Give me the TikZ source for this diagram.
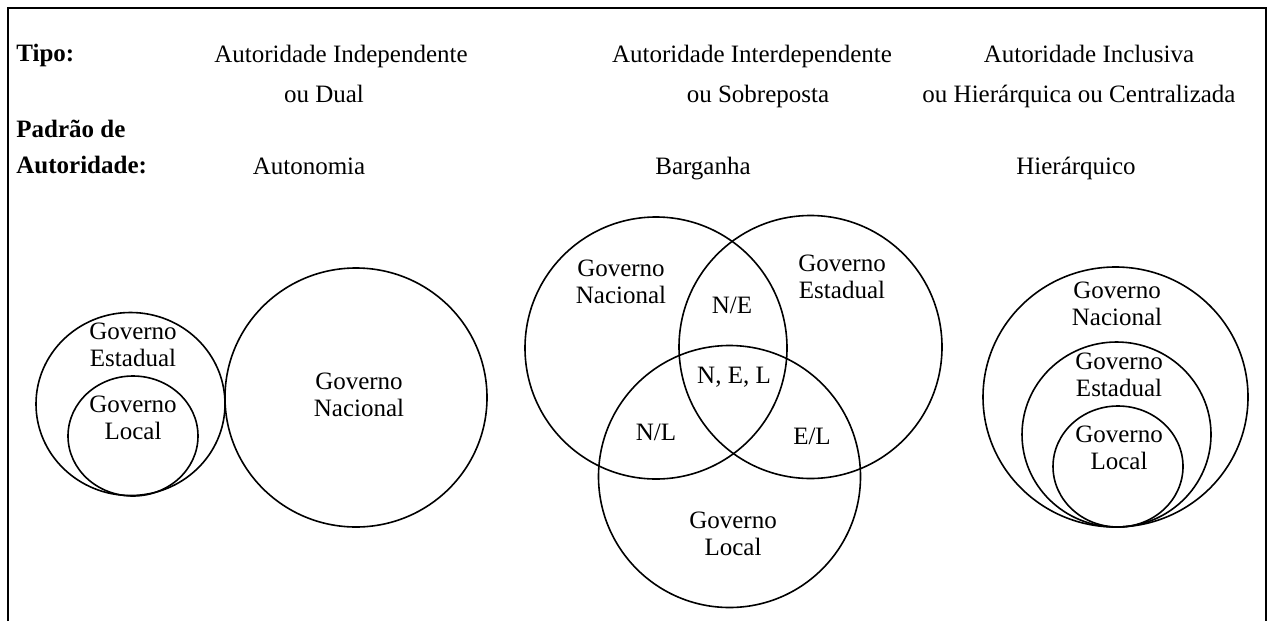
\documentclass[tikz,border=0pt]{standalone}
\usepackage{fontspec}
\setmainfont{Liberation Serif}
\usepackage{tikz}
\usetikzlibrary{shapes.geometric, positioning}
\tikzstyle{gov}   = [ellipse, draw=black, line width=0.8pt, inner sep=0pt]
\tikzstyle{lbl}   = [align=center, inner sep=0pt, font=\fontsize{12.5}{13.6}\selectfont]
\tikzstyle{row}   = [lbl, anchor=base]
\tikzstyle{head}  = [lbl, anchor=base west, font=\fontsize{12.5}{13.6}\selectfont\bfseries]

\begin{document}
\begin{tikzpicture}[x=0.5pt, y=-0.5pt]
  \useasboundingbox (0,0) rectangle (1272,621);

  % open frame
  \coordinate (fbl) at (8,621);
  \coordinate (ftl) at (8,8);
  \coordinate (ftr) at (1266,8);
  \coordinate (fbr) at (1266,621);
  \draw[line width=1.1pt] (fbl) -- (ftl) -- (ftr) -- (fbr);

  % header rows
  \node[head] (tipo) at (16,61.5) {Tipo:};
  \node[head] (padrao) at (16,137) {Padrão de};
  \node[head] (autor) at (16,173.5) {Autoridade:};

  \node[row] (indep) at (341,62) {Autoridade Independente};
  \node[row] (dual) at (324,102) {ou Dual};
  \node[row] (interd) at (752,62) {Autoridade Interdependente};
  \node[row] (sobrep) at (758,102) {ou Sobreposta};
  \node[row] (inclus) at (1089,62) {Autoridade Inclusiva};
  \node[row] (hierq) at (1079,102) {ou Hierárquica ou Centralizada};

  \node[row] (autonomia) at (309,174) {Autonomia};
  \node[row] (barganha) at (703,174) {Barganha};
  \node[row] (hierarq) at (1076,174) {Hierárquico};

  % autonomia
  \node[gov, minimum width=94.5pt, minimum height=91.5pt] (lest) at (130.5,404) {};
  \node[gov, minimum width=65pt, minimum height=60pt] (lloc) at (133,436) {};
  \node[gov, minimum width=131pt, minimum height=129.5pt] (lnac) at (356,397.5) {};
  \node[lbl] (lestt) at (133,344.5) {Governo\\Estadual};
  \node[lbl] (lloct) at (133,418) {Governo\\Local};
  \node[lbl] (lnact) at (359,395) {Governo\\Nacional};

  % barganha
  \node[gov, minimum size=131pt] (vn) at (656,348) {};
  \node[gov, minimum size=131.5pt] (ve) at (810.5,347) {};
  \node[gov, minimum size=131pt] (vl) at (729.5,476.5) {};
  \node[lbl] (vnt) at (621,282) {Governo\\Nacional};
  \node[lbl] (vet) at (842,277) {Governo\\Estadual};
  \node[lbl] (vlt) at (733,534) {Governo\\Local};
  \node[lbl] (vne) at (732,305) {N/E};
  \node[lbl] (vnel) at (734,377) {N, E, L};
  \node[lbl] (vnl) at (656,432) {N/L};
  \node[lbl] (vel) at (812,436) {E/L};

  % hierarquico
  \node[gov, minimum width=132.5pt, minimum height=130pt] (hnac) at (1115.5,397) {};
  \node[gov, minimum width=94.5pt, minimum height=92.5pt] (hest) at (1116.5,434.5) {};
  \node[gov, minimum width=65pt, minimum height=60.5pt] (hloc) at (1118,466.5) {};
  \node[lbl] (hnact) at (1117,303.5) {Governo\\Nacional};
  \node[lbl] (hestt) at (1119,374.5) {Governo\\Estadual};
  \node[lbl] (hloct) at (1119,447.5) {Governo\\Local};
\end{tikzpicture}
\end{document}
